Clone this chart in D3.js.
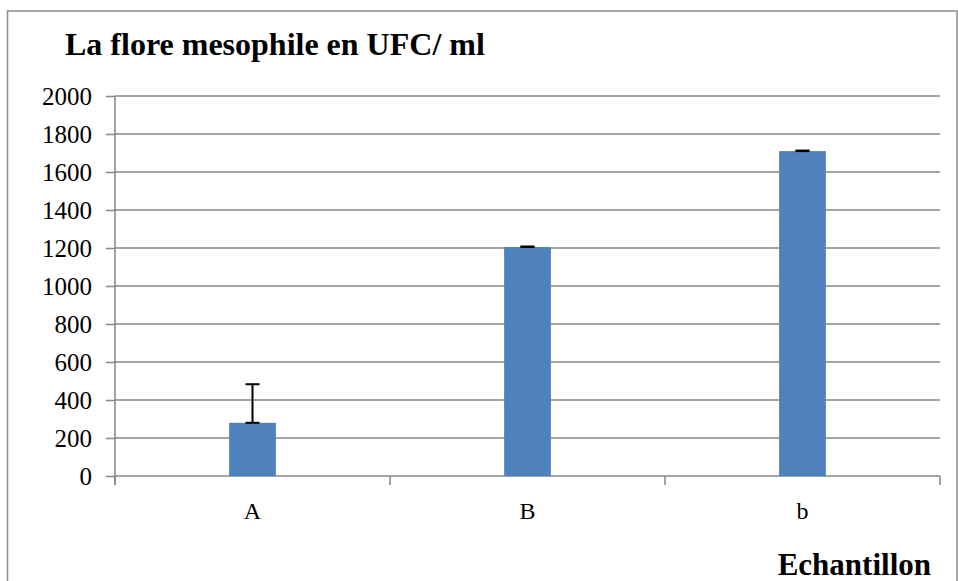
<!DOCTYPE html>
<html><head><meta charset="utf-8">
<script src="https://cdn.jsdelivr.net/npm/d3@7"></script>
<style>html,body{margin:0;padding:0;background:#fff;}svg{display:block;} svg text{font-family:"Liberation Serif","Times New Roman",serif !important;}</style>
</head><body>
<script>
const categories = ["A", "B", "b"];
const values = [280, 1205, 1710];
const errors = [203, 3, 3];
const yTicks = [0, 200, 400, 600, 800, 1000, 1200, 1400, 1600, 1800, 2000];
const title = "La flore mesophile en UFC/ ml";
const xTitle = "Echantillon";

const W = 958, H = 581;
const svg = d3.select("body").append("svg").attr("width", W).attr("height", H);
const font = "Liberation Serif";

// outer border
svg.append("rect").attr("x", 7.5).attr("y", 11).attr("width", 949.5).attr("height", 600)
  .attr("fill", "none").attr("stroke", "#8c8c8c").attr("stroke-width", 1.5);

const x0 = 115, x1 = 940, yTop = 96, yBot = 476;
const x = d3.scaleBand().domain(categories).range([x0, x1]).paddingInner(0.83).paddingOuter(0.415);
const y = d3.scaleLinear().domain([0, 2000]).range([yBot, yTop]);

// gridlines
svg.append("g").selectAll("line").data(yTicks.filter(d => d > 0)).join("line")
  .attr("x1", x0).attr("x2", x1).attr("y1", d => y(d)).attr("y2", d => y(d))
  .attr("stroke", "#868686").attr("stroke-width", 1.5);

// y axis
const yAxis = svg.append("g").attr("transform", `translate(${x0},0)`)
  .call(d3.axisLeft(y).tickValues(yTicks).tickSize(9).tickPadding(14).tickFormat(d3.format("d")));
yAxis.attr("font-family", null).attr("font-size", null);
yAxis.select(".domain").remove();
yAxis.selectAll(".tick line").attr("stroke", "#868686").attr("stroke-width", 1.5);
yAxis.selectAll(".tick text").style("font-family", font).style("font-size", "25px").attr("fill", "#000");
svg.append("line").attr("x1", x0).attr("x2", x0).attr("y1", yTop).attr("y2", yBot + 9)
  .attr("stroke", "#868686").attr("stroke-width", 1.5);

// x axis line and boundary ticks
svg.append("line").attr("x1", x0).attr("x2", x1).attr("y1", yBot).attr("y2", yBot)
  .attr("stroke", "#868686").attr("stroke-width", 1.5);
const step = x.step();
const bounds = d3.range(categories.length + 1).map(i => x0 + i * step);
svg.append("g").selectAll("line").data(bounds).join("line")
  .attr("x1", d => d).attr("x2", d => d).attr("y1", yBot).attr("y2", yBot + 9)
  .attr("stroke", "#868686").attr("stroke-width", 1.5);

// x labels
svg.append("g").selectAll("text").data(categories).join("text")
  .attr("x", d => x(d) + x.bandwidth() / 2).attr("y", 519)
  .attr("text-anchor", "middle").style("font-family", font).style("font-size", "24px").attr("fill", "#000")
  .text(d => d);

// bars
svg.append("g").selectAll("rect").data(values).join("rect")
  .attr("x", (d, i) => x(categories[i])).attr("width", x.bandwidth())
  .attr("y", d => y(d)).attr("height", d => y(0) - y(d))
  .attr("fill", "#4f81bd");

// error bars (plus direction)
const eg = svg.append("g").attr("stroke", "#000").attr("stroke-width", 2);
values.forEach((v, i) => {
  const cx = x(categories[i]) + x.bandwidth() / 2;
  eg.append("line").attr("x1", cx).attr("x2", cx).attr("y1", y(v)).attr("y2", y(v + errors[i]));
  eg.append("line").attr("x1", cx - 7).attr("x2", cx + 7).attr("y1", y(v + errors[i])).attr("y2", y(v + errors[i]));
  eg.append("line").attr("x1", cx - 7).attr("x2", cx + 7).attr("y1", y(v)).attr("y2", y(v));
});

// titles
svg.append("text").attr("x", 65).attr("y", 55).style("font-family", font).style("font-weight", "bold")
  .style("font-size", "32px").attr("fill", "#000").text(title);
svg.append("text").attr("x", 931).attr("y", 575).attr("text-anchor", "end").style("font-family", font)
  .style("font-weight", "bold").style("font-size", "31px").attr("fill", "#000").text(xTitle);
</script>
</body></html>
